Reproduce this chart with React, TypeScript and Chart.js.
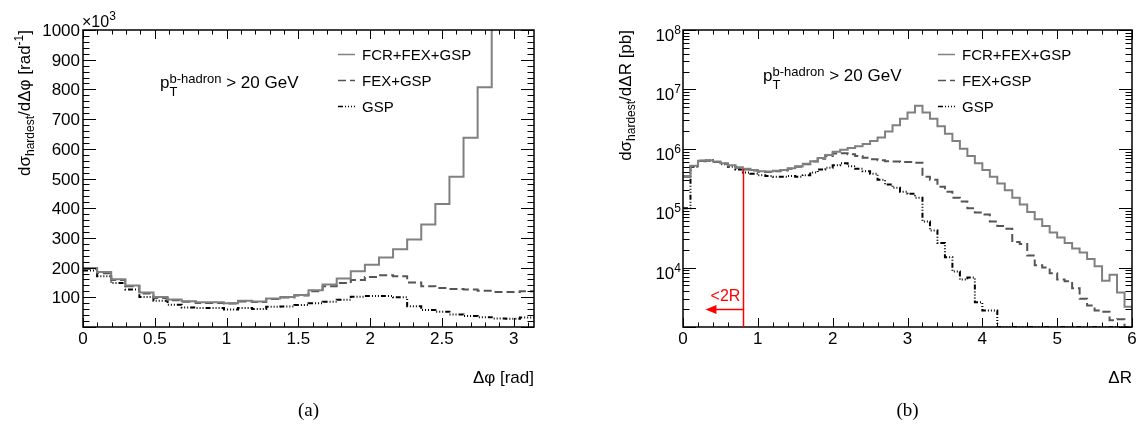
import { useEffect, useRef } from "react";
import { Chart, registerables } from "chart.js";

Chart.register(...registerables);

// ---------- Δφ between the two hardest b-hadron jets (×10^3 per rad), 32 bins over [0, π]
const DPHI_MAX = Math.PI;
const dphiFcrFexGsp = [
  199, 185, 161, 140, 116, 101, 93, 87, 83, 83, 80, 88, 86, 96, 101, 108,
  124, 143, 163, 188, 210, 234, 262, 295, 345, 414, 506, 637, 807, 1250, 1800, 2600,
];
const dphiFexGsp = [
  195, 181, 158, 137, 113, 98, 90, 85, 81, 81, 79, 86, 84, 94, 99, 106,
  120, 137, 148, 158, 168, 174, 171, 150, 137, 131, 128, 126, 122, 118, 118, 120,
];
const dphiGsp = [
  190, 171, 148, 126, 101, 88, 75, 66, 64, 64, 59, 64, 61, 68, 69, 74,
  80, 85, 92, 102, 104, 104, 100, 70, 57, 51, 42, 37, 33, 29, 28, 32,
];
const DPHI_X_TICK_LABELS = ["0", "0.5", "1", "1.5", "2", "2.5", "3"];
const DPHI_Y_TICK_LABELS = ["100", "200", "300", "400", "500", "600", "700", "800", "900", "1000"];

// ---------- ΔR between the two hardest b-hadron jets (pb), 60 bins of 0.1 over [0, 6]
const DR_BIN = 0.1;
const DR_MIN_Y = 1e3;
const drFcrFexGsp = [
  3.5e5, 5.2e5, 6.3e5, 6.4e5, 6.1e5, 5.7e5, 5.3e5, 4.9e5, 4.6e5, 4.4e5,
  4.2e5, 4.15e5, 4.25e5, 4.4e5, 4.7e5, 5.1e5, 5.6e5, 6.2e5, 7.0e5, 7.9e5,
  8.9e5, 9.6e5, 1.03e6, 1.1e6, 1.2e6, 1.35e6, 1.55e6, 1.95e6, 2.5e6, 3.2e6,
  4.1e6, 5.3e6, 4.1e6, 3.2e6, 2.4e6, 1.8e6, 1.35e6, 1.0e6, 7.6e5, 5.7e5,
  4.4e5, 3.4e5, 2.6e5, 2.0e5, 1.5e5, 1.15e5, 8.6e4, 6.5e4, 5.0e4, 3.9e4,
  3.2e4, 2.6e4, 2.1e4, 1.8e4, 1.4e4, 1.05e4, 6.0e3, 7.6e3, 3.8e3, 2.2e3,
];
const drFexGsp = [
  3.4e5, 5.1e5, 6.2e5, 6.3e5, 6.0e5, 5.6e5, 5.2e5, 4.8e5, 4.5e5, 4.3e5,
  4.1e5, 4.05e5, 4.2e5, 4.3e5, 4.6e5, 5.0e5, 5.5e5, 6.1e5, 6.8e5, 7.6e5,
  8.3e5, 8.4e5, 8.1e5, 7.6e5, 7.1e5, 6.7e5, 6.4e5, 6.2e5, 6.1e5, 6.0e5,
  6.0e5, 5.8e5, 3.4e5, 3.0e5, 2.3e5, 1.9e5, 1.5e5, 1.3e5, 1.0e5, 8.5e4,
  7.8e4, 6.0e4, 5.0e4, 4.5e4, 2.7e4, 2.5e4, 1.6e4, 1.1e4, 1.0e4, 8.0e3,
  6.3e3, 5.9e3, 4.5e3, 3.0e3, 2.3e3, 1.9e3, 1.8e3, 1.3e3, 1.35e3, 0,
];
const drGsp = [
  1.0e5, 5.0e5, 6.3e5, 6.4e5, 6.0e5, 5.5e5, 5.0e5, 4.5e5, 4.0e5, 3.8e5,
  3.6e5, 3.5e5, 3.4e5, 3.4e5, 3.5e5, 3.4e5, 3.6e5, 4.0e5, 4.5e5, 4.8e5,
  5.3e5, 5.7e5, 5.1e5, 4.6e5, 4.2e5, 3.8e5, 3.0e5, 2.5e5, 2.2e5, 1.9e5,
  1.75e5, 1.5e5, 6.0e4, 4.2e4, 2.6e4, 1.5e4, 8.6e3, 6.3e3, 6.8e3, 2.6e3,
  1.9e3, 1.9e3, 0, 0, 0, 0, 0, 0, 0, 0,
  0, 0, 0, 0, 0, 0, 0, 0, 0, 0,
];
const DR_X_TICK_LABELS = ["0", "1", "2", "3", "4", "5", "6"];
const DR_Y_DECADES = [4, 5, 6, 7, 8];

// <2R marker: jet-pair separation below twice the jet radius
const TWO_R = 0.8;
const TWO_R_LINE_TOP = 4.6e5;
const TWO_R_ARROW_Y = 2e3;
const TWO_R_ARROW_END = 0.3;

const SERIES_NAMES = ["FCR+FEX+GSP", "FEX+GSP", "GSP"];
const SERIES_STYLE = [
  { color: "#808080", dash: [] as number[], width: 2 },
  { color: "#555555", dash: [8, 4], width: 2 },
  { color: "#000000", dash: [5, 2, 1, 2, 1, 2, 1, 2], width: 2 },
];

const SANS = '"Liberation Sans", Arial, Helvetica, sans-serif';
const SERIF = '"Liberation Serif", "DejaVu Serif", serif';

type Seg = { t: string; size: number; dy?: number; color?: string };

function segWidth(ctx: CanvasRenderingContext2D, segs: Seg[]) {
  let w = 0;
  for (const s of segs) {
    ctx.font = `${s.size}px ${SANS}`;
    w += ctx.measureText(s.t).width;
  }
  return w;
}

function drawRich(
  ctx: CanvasRenderingContext2D,
  segs: Seg[],
  x: number,
  y: number,
  align: "left" | "center" | "right" = "left"
) {
  const w = segWidth(ctx, segs);
  let cx = align === "right" ? x - w : align === "center" ? x - w / 2 : x;
  ctx.textAlign = "left";
  ctx.textBaseline = "alphabetic";
  for (const s of segs) {
    ctx.font = `${s.size}px ${SANS}`;
    ctx.fillStyle = s.color ?? "#000";
    ctx.fillText(s.t, cx, y + (s.dy ?? 0));
    cx += ctx.measureText(s.t).width;
  }
}

// vertical title, read bottom-to-top, its end flush with the top of the frame
function drawYTitle(ctx: CanvasRenderingContext2D, segs: Seg[], baselineX: number, topY: number) {
  ctx.save();
  ctx.translate(baselineX, topY);
  ctx.rotate(-Math.PI / 2);
  drawRich(ctx, segs, 0, 0, "right");
  ctx.restore();
}

// p_T^{b-hadron} > 20 GeV
function drawPtCut(ctx: CanvasRenderingContext2D, x: number, y: number) {
  ctx.fillStyle = "#000";
  ctx.textAlign = "left";
  ctx.textBaseline = "alphabetic";
  ctx.font = `17px ${SANS}`;
  ctx.fillText("p", x, y);
  const px = x + ctx.measureText("p").width;
  ctx.font = `13px ${SANS}`;
  ctx.fillText("b-hadron", px, y - 5);
  const supW = ctx.measureText("b-hadron").width;
  ctx.fillText("T", px, y + 8);
  ctx.font = `17px ${SANS}`;
  ctx.fillText(" > 20 GeV", px + supW, y);
}

function drawLegend(ctx: CanvasRenderingContext2D, sampleX: number, rows: number[]) {
  SERIES_NAMES.forEach((name, i) => {
    const st = SERIES_STYLE[i];
    const cy = rows[i];
    ctx.save();
    ctx.strokeStyle = st.color;
    ctx.lineWidth = st.width - 0.5;
    ctx.setLineDash(st.dash);
    ctx.beginPath();
    ctx.moveTo(sampleX, cy + 0.5);
    ctx.lineTo(sampleX + 17, cy + 0.5);
    ctx.stroke();
    ctx.restore();
    drawRich(ctx, [{ t: name, size: 15 }], sampleX + 24, cy + 5.5, "left");
  });
}

type Tick = [number, boolean];

function drawFrame(chart: Chart, xTicks: Tick[], yTicks: Tick[], xLen: number, yLen: number) {
  const ctx = chart.ctx;
  const { left, right, top, bottom } = chart.chartArea;
  const xs = chart.scales.x;
  const ys = chart.scales.y;
  ctx.save();
  ctx.strokeStyle = "#000";
  ctx.lineWidth = 1;
  ctx.setLineDash([]);
  ctx.beginPath();
  for (const [v, major] of xTicks) {
    const px = Math.round(xs.getPixelForValue(v)) + 0.5;
    const L = major ? xLen : xLen / 2;
    ctx.moveTo(px, bottom);
    ctx.lineTo(px, bottom - L);
    ctx.moveTo(px, top);
    ctx.lineTo(px, top + L);
  }
  for (const [v, major] of yTicks) {
    const py = Math.round(ys.getPixelForValue(v)) + 0.5;
    const L = major ? yLen : yLen / 2;
    ctx.moveTo(left, py);
    ctx.lineTo(left + L, py);
    ctx.moveTo(right, py);
    ctx.lineTo(right - L, py);
  }
  ctx.stroke();
  ctx.lineWidth = 1.5;
  ctx.strokeRect(left, top, right - left, bottom - top);
  ctx.restore();
}

function histogramPoints(values: number[], binWidth: number, floor = -Infinity) {
  const pts = values.map((v, i) => ({ x: i * binWidth, y: Math.max(v, floor) }));
  pts.push({ x: values.length * binWidth, y: Math.max(values[values.length - 1], floor) });
  return pts;
}

function datasetsFor(series: number[][], binWidth: number, floor?: number) {
  return series.map((vals, i) => ({
    label: SERIES_NAMES[i],
    data: histogramPoints(vals, binWidth, floor),
    borderColor: SERIES_STYLE[i].color,
    borderWidth: SERIES_STYLE[i].width,
    borderDash: SERIES_STYLE[i].dash,
    borderJoinStyle: "miter" as const,
    stepped: "before" as const,
    pointRadius: 0,
    fill: false,
    tension: 0,
  }));
}

const dphiDecor = {
  id: "dphiDecor",
  afterDatasetsDraw(chart: Chart) {
    const ctx = chart.ctx;
    const a = chart.chartArea;
    const xs = chart.scales.x;
    const ys = chart.scales.y;
    const xT: Tick[] = [];
    for (let i = 0; i * 0.1 <= DPHI_MAX; i++) xT.push([i * 0.1, i % 5 === 0]);
    const yT: Tick[] = [];
    for (let i = 0; i <= 50; i++) yT.push([i * 20, i % 5 === 0]);
    drawFrame(chart, xT, yT, 9, 13);

    for (const lab of DPHI_X_TICK_LABELS)
      drawRich(ctx, [{ t: lab, size: 17 }], xs.getPixelForValue(parseFloat(lab)), a.bottom + 17, "center");
    for (const lab of DPHI_Y_TICK_LABELS)
      drawRich(ctx, [{ t: lab, size: 17 }], a.left - 3, ys.getPixelForValue(parseFloat(lab)) + 6, "right");
    drawRich(ctx, [{ t: "×10", size: 16 }, { t: "3", size: 12, dy: -7 }], a.left - 1, a.top - 3, "left");

    drawYTitle(
      ctx,
      [
        { t: "dσ", size: 17 },
        { t: "hardest", size: 12, dy: 4 },
        { t: "/dΔφ [rad", size: 17 },
        { t: "-1", size: 12, dy: -7 },
        { t: "]", size: 17 },
      ],
      30,
      a.top
    );
    drawRich(ctx, [{ t: "Δφ [rad]", size: 17 }], a.right, a.bottom + 56, "right");

    drawPtCut(ctx, 160, 88);
    drawLegend(ctx, a.right - 196, [54, 80, 106]);

    ctx.font = `19px ${SERIF}`;
    ctx.fillStyle = "#000";
    ctx.textAlign = "center";
    ctx.fillText("(a)", (a.left + a.right) / 2, 416);
  },
};

const drDecor = {
  id: "drDecor",
  afterDatasetsDraw(chart: Chart) {
    const ctx = chart.ctx;
    const a = chart.chartArea;
    const xs = chart.scales.x;
    const ys = chart.scales.y;
    const xT: Tick[] = [];
    for (let i = 0; i <= 30; i++) xT.push([i * 0.2, i % 5 === 0]);
    const yT: Tick[] = [];
    for (let d = 3; d <= 7; d++)
      for (let m = 1; m <= 9; m++) yT.push([m * Math.pow(10, d), m === 1]);
    yT.push([1e8, true]);
    drawFrame(chart, xT, yT, 9, 13);

    // <2R region marker
    const x2r = Math.round(xs.getPixelForValue(TWO_R)) + 0.5;
    const yArrow = Math.round(ys.getPixelForValue(TWO_R_ARROW_Y)) + 0.5;
    const xTip = xs.getPixelForValue(TWO_R_ARROW_END);
    ctx.save();
    ctx.setLineDash([]);
    ctx.strokeStyle = "#ff0000";
    ctx.fillStyle = "#ff0000";
    ctx.lineWidth = 1.5;
    ctx.beginPath();
    ctx.moveTo(x2r, a.bottom);
    ctx.lineTo(x2r, ys.getPixelForValue(TWO_R_LINE_TOP));
    ctx.stroke();
    ctx.beginPath();
    ctx.moveTo(x2r, yArrow);
    ctx.lineTo(xTip + 8, yArrow);
    ctx.stroke();
    ctx.beginPath();
    ctx.moveTo(xTip, yArrow);
    ctx.lineTo(xTip + 11, yArrow - 4.5);
    ctx.lineTo(xTip + 11, yArrow + 4.5);
    ctx.closePath();
    ctx.fill();
    ctx.restore();
    drawRich(ctx, [{ t: "<2R", size: 16, color: "#ff0000" }], (x2r + xTip) / 2 + 1, yArrow - 9, "center");

    for (const lab of DR_X_TICK_LABELS)
      drawRich(ctx, [{ t: lab, size: 17 }], xs.getPixelForValue(parseFloat(lab)), a.bottom + 17, "center");
    for (const d of DR_Y_DECADES) {
      const py = ys.getPixelForValue(Math.pow(10, d));
      drawRich(ctx, [{ t: "10", size: 17, dy: 0 }, { t: String(d), size: 12, dy: -7 }], a.left - 2, py + 11, "right");
    }

    drawYTitle(
      ctx,
      [
        { t: "dσ", size: 17 },
        { t: "hardest", size: 12, dy: 4 },
        { t: "/dΔR [pb]", size: 17 },
      ],
      631 - 569,
      a.top
    );
    drawRich(ctx, [{ t: "ΔR", size: 17 }], a.right, a.bottom + 56, "right");

    drawPtCut(ctx, 763 - 569, 81);
    drawLegend(ctx, a.right - 194, [54, 80, 106]);

    ctx.font = `19px ${SERIF}`;
    ctx.fillStyle = "#000";
    ctx.textAlign = "center";
    ctx.fillText("(b)", (a.left + a.right) / 2, 416);
  },
};

function makeDphiConfig(): any {
  return {
    type: "line",
    data: { datasets: datasetsFor([dphiFcrFexGsp, dphiFexGsp, dphiGsp], DPHI_MAX / dphiFcrFexGsp.length) },
    options: {
      animation: false,
      responsive: false,
      maintainAspectRatio: false,
      devicePixelRatio: 1,
      layout: { padding: { left: 83, top: 30, right: 35, bottom: 105 } },
      plugins: { legend: { display: false }, tooltip: { enabled: false } },
      scales: {
        x: { type: "linear", min: 0, max: DPHI_MAX, display: false },
        y: { type: "linear", min: 0, max: 1000, display: false },
      },
    },
    plugins: [dphiDecor],
  };
}

function makeDrConfig(): any {
  return {
    type: "line",
    data: { datasets: datasetsFor([drFcrFexGsp, drFexGsp, drGsp], DR_BIN, DR_MIN_Y) },
    options: {
      animation: false,
      responsive: false,
      maintainAspectRatio: false,
      devicePixelRatio: 1,
      layout: { padding: { left: 114, top: 30, right: 6, bottom: 105 } },
      plugins: { legend: { display: false }, tooltip: { enabled: false } },
      scales: {
        x: { type: "linear", min: 0, max: 6, display: false },
        y: { type: "logarithmic", min: DR_MIN_Y, max: 1e8, display: false },
      },
    },
    plugins: [drDecor],
  };
}

function ChartCanvas({ make, left }: { make: () => any; left: number }) {
  const ref = useRef<HTMLCanvasElement | null>(null);
  useEffect(() => {
    if (!ref.current) return;
    const chart = new Chart(ref.current, make());
    return () => chart.destroy();
  }, [make]);
  return (
    <canvas
      ref={ref}
      width={569}
      height={432}
      style={{ position: "absolute", left, top: 0, width: 569, height: 432 }}
    />
  );
}

export default function App() {
  return (
    <div style={{ position: "fixed", left: 0, top: 0, width: 1138, height: 432, background: "#fff" }}>
      <ChartCanvas make={makeDphiConfig} left={0} />
      <ChartCanvas make={makeDrConfig} left={569} />
    </div>
  );
}
